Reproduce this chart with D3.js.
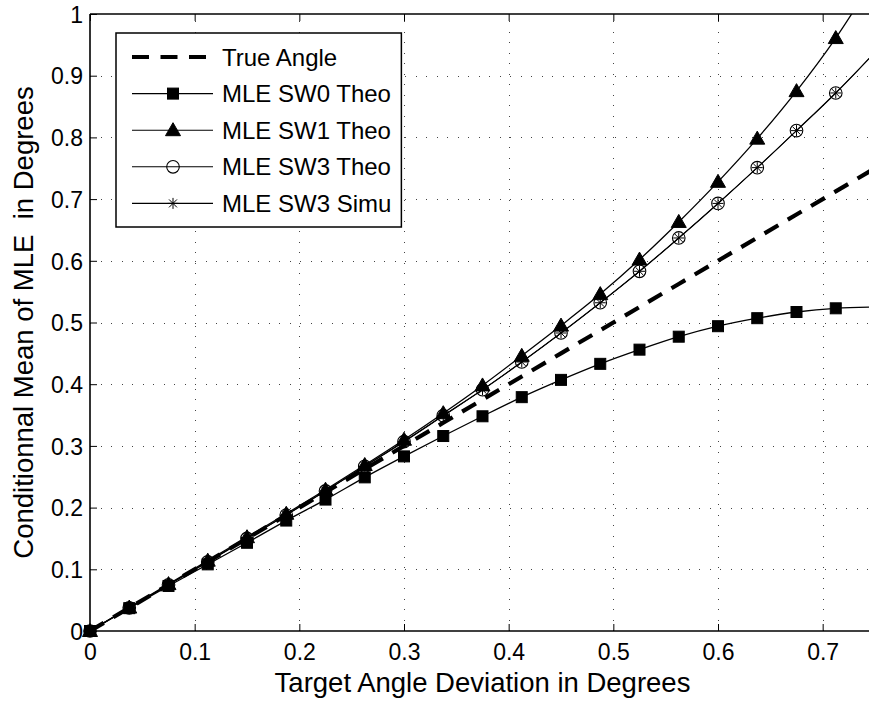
<!DOCTYPE html>
<html>
<head>
<meta charset="utf-8">
<script src="https://cdn.jsdelivr.net/npm/d3@7/dist/d3.min.js"></script>
<style>
  html, body { margin: 0; padding: 0; background: #fff; }
  svg { display: block; font-family: "Liberation Sans", Arial, Helvetica, sans-serif; }
</style>
</head>
<body>
<svg id="chart" width="869" height="704"></svg>
<script>
// ---------- data ----------
const xValues   = [0, 0.0375, 0.075, 0.1125, 0.15, 0.1875, 0.225, 0.2625, 0.3, 0.3375, 0.375, 0.4125, 0.45, 0.4875, 0.525, 0.5625, 0.6, 0.6375, 0.675, 0.7125, 0.75];
const trueAngle = [0, 0.0375, 0.075, 0.1125, 0.15, 0.1875, 0.225, 0.2625, 0.3, 0.3375, 0.375, 0.4125, 0.45, 0.4875, 0.525, 0.5625, 0.6, 0.6375, 0.675, 0.7125, 0.75];
const sw0Theo   = [0, 0.037, 0.073, 0.108, 0.143, 0.179, 0.213, 0.249, 0.283, 0.316, 0.348, 0.379, 0.407, 0.433, 0.456, 0.477, 0.494, 0.507, 0.517, 0.523, 0.525];
const sw1Theo   = [0, 0.038, 0.076, 0.114, 0.152, 0.190, 0.229, 0.269, 0.310, 0.353, 0.398, 0.446, 0.495, 0.546, 0.602, 0.663, 0.728, 0.798, 0.875, 0.961, 1.06];
const sw3Theo   = [0, 0.0375, 0.075, 0.112, 0.150, 0.188, 0.227, 0.267, 0.307, 0.349, 0.391, 0.436, 0.483, 0.532, 0.583, 0.637, 0.693, 0.751, 0.811, 0.872, 0.938];
const sw3Simu   = [0, 0.0375, 0.075, 0.112, 0.150, 0.188, 0.227, 0.267, 0.307, 0.349, 0.391, 0.436, 0.483, 0.532, 0.583, 0.637, 0.693, 0.751, 0.811, 0.872, 0.938];
const xTicks = [0, 0.1, 0.2, 0.3, 0.4, 0.5, 0.6, 0.7];
const yTicks = [0, 0.1, 0.2, 0.3, 0.4, 0.5, 0.6, 0.7, 0.8, 0.9, 1];
const legendLabels = ["True Angle", "MLE SW0 Theo", "MLE SW1 Theo", "MLE SW3 Theo", "MLE SW3 Simu"];
const xLabel = "Target Angle Deviation in Degrees";
const yLabel = "Conditionnal Mean of MLE  in Degrees";

// ---------- layout ----------
const L = 90, R = 875, T = 14, B = 631;
const svg = d3.select("#chart");
const x = d3.scaleLinear().domain([0, 0.75]).range([L, R]);
const y = d3.scaleLinear().domain([0, 1]).range([B, T]);

svg.append("defs").append("clipPath").attr("id", "clip")
  .append("rect").attr("x", L).attr("y", T).attr("width", R - L).attr("height", B - T);

// grid
const grid = svg.append("g").attr("stroke", "#444").attr("stroke-width", 1)
  .attr("stroke-dasharray", "1,9.5").attr("shape-rendering", "crispEdges");
xTicks.filter(d => d > 0).forEach(d => {
  grid.append("line").attr("x1", Math.round(x(d)) + 0.5).attr("x2", Math.round(x(d)) + 0.5)
    .attr("y1", B).attr("y2", T);
});
yTicks.filter(d => d > 0 && d < 1).forEach(d => {
  grid.append("line").attr("y1", Math.round(y(d)) + 0.5).attr("y2", Math.round(y(d)) + 0.5)
    .attr("x1", L).attr("x2", R);
});

// axes (ticks inside, MATLAB style)
const fontTick = 23;
const xAxisB = d3.axisBottom(x).tickValues(xTicks).tickSize(-7).tickPadding(13)
  .tickFormat(d => d === 0 ? "0" : (+d.toFixed(1)).toString());
const gx = svg.append("g").attr("transform", `translate(0,${B})`).call(xAxisB);
const xAxisT = d3.axisTop(x).tickValues(xTicks).tickSize(-7).tickFormat("");
const gxt = svg.append("g").attr("transform", `translate(0,${T})`).call(xAxisT);
const yAxisL = d3.axisLeft(y).tickValues(yTicks).tickSize(-7).tickPadding(7)
  .tickFormat(d => d === 0 ? "0" : d === 1 ? "1" : (+d.toFixed(1)).toString());
const gy = svg.append("g").attr("transform", `translate(${L},0)`).call(yAxisL);

[gx, gxt, gy].forEach(g => {
  g.select(".domain").attr("stroke", "#000").attr("stroke-width", 1.6);
  g.selectAll(".tick line").attr("stroke", "#000").attr("stroke-width", 1);
  g.selectAll("text").attr("fill", "#000").style("font-size", fontTick + "px")
    .style("font-family", '"Liberation Sans", Arial, sans-serif');
});
gx.select(".domain").attr("d", `M${L},0H${R}`);
gxt.select(".domain").attr("d", `M${L},0H${R}`);
gy.select(".domain").attr("d", `M0,${B}V${T}`);
gx.selectAll("text").attr("dy", "0.71em");
gy.selectAll("text").attr("dy", "0.36em");

// axis titles
svg.append("text").attr("x", (L + R) / 2).attr("y", 692).attr("text-anchor", "middle")
  .style("font-size", "27.5px").attr("fill", "#000").text(xLabel);
svg.append("text").attr("transform", `translate(33,${(T + B) / 2}) rotate(-90)`)
  .attr("text-anchor", "middle").style("font-size", "27.5px").style("white-space", "pre")
  .attr("fill", "#000").text(yLabel);

// ---------- series ----------
const plot = svg.append("g");
const lineGen = vals => d3.line().x((d, i) => x(xValues[i])).y(d => y(d)).curve(d3.curveMonotoneX)(vals);
const lines = plot.append("g").attr("clip-path", "url(#clip)").attr("fill", "none");

lines.append("path").attr("d", lineGen(sw0Theo)).attr("stroke", "#000").attr("stroke-width", 1.3);
lines.append("path").attr("d", lineGen(sw1Theo)).attr("stroke", "#000").attr("stroke-width", 1.3);
lines.append("path").attr("d", lineGen(sw3Theo)).attr("stroke", "#000").attr("stroke-width", 1.3);
lines.append("path").attr("d", lineGen(sw3Simu)).attr("stroke", "#000").attr("stroke-width", 1.0);
lines.append("path").attr("d", d3.line().x((d, i) => x(xValues[i])).y(d => y(d))(trueAngle))
  .attr("stroke", "#000").attr("stroke-width", 4.2).attr("stroke-dasharray", "16,11");

// marker drawers
function square(g, cx, cy) {
  g.append("rect").attr("x", cx - 5.5).attr("y", cy - 5.5).attr("width", 11).attr("height", 11)
    .attr("fill", "#000").attr("stroke", "#000").attr("stroke-width", 1);
}
function triangle(g, cx, cy) {
  g.append("path").attr("d", `M${cx},${cy - 7.5}L${cx + 7.5},${cy + 5.5}L${cx - 7.5},${cy + 5.5}Z`)
    .attr("fill", "#000").attr("stroke", "#000").attr("stroke-width", 1);
}
function circle(g, cx, cy) {
  g.append("circle").attr("cx", cx).attr("cy", cy).attr("r", 6.3)
    .attr("fill", "none").attr("stroke", "#000").attr("stroke-width", 1.1);
}
function star(g, cx, cy) {
  const r = 5.5, d = r * 0.72;
  g.append("path").attr("d",
    `M${cx - r},${cy}H${cx + r}M${cx},${cy - r}V${cy + r}M${cx - d},${cy - d}L${cx + d},${cy + d}M${cx - d},${cy + d}L${cx + d},${cy - d}`)
    .attr("stroke", "#000").attr("stroke-width", 1).attr("fill", "none");
}

const mk = plot.append("g");
xValues.forEach((xv, i) => { if (xv <= 0.74) square(mk, x(xv), y(sw0Theo[i])); });
xValues.forEach((xv, i) => { if (xv <= 0.74) triangle(mk, x(xv), y(sw1Theo[i])); });
xValues.forEach((xv, i) => { if (xv <= 0.74) circle(mk, x(xv), y(sw3Theo[i])); });
xValues.forEach((xv, i) => { if (xv <= 0.74) star(mk, x(xv), y(sw3Simu[i])); });

// ---------- legend ----------
const lg = svg.append("g");
const lgX = 116, lgY = 33, rowH = 36.6, row0 = 57;
const box = lg.append("rect").attr("x", lgX).attr("y", lgY).attr("height", 227 - lgY)
  .attr("fill", "#fff").attr("stroke", "#000").attr("stroke-width", 1.5);
let maxW = 0;
legendLabels.forEach((lab, i) => {
  const cy = row0 + i * rowH;
  if (i === 0) {
    lg.append("line").attr("x1", 132).attr("x2", 213).attr("y1", cy).attr("y2", cy)
      .attr("stroke", "#000").attr("stroke-width", 4.2).attr("stroke-dasharray", "17,11.5");
  } else {
    lg.append("line").attr("x1", 132).attr("x2", 213).attr("y1", cy).attr("y2", cy)
      .attr("stroke", "#000").attr("stroke-width", 1.1);
    if (i === 1) square(lg, 173, cy);
    if (i === 2) triangle(lg, 173, cy);
    if (i === 3) circle(lg, 173, cy);
    if (i === 4) star(lg, 173, cy);
  }
  const t = lg.append("text").attr("x", 222).attr("y", cy).attr("dy", "0.36em")
    .style("font-size", "24px").attr("fill", "#000").text(lab);
  maxW = Math.max(maxW, t.node().getComputedTextLength());
});
box.attr("width", 222 + maxW + 10 - lgX);
</script>
</body>
</html>
